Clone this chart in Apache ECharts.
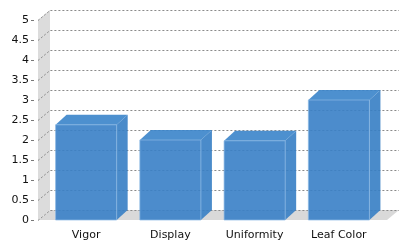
<!DOCTYPE html>
<html>
<head>
<meta charset="utf-8">
<script src="https://cdn.jsdelivr.net/npm/echarts@6/dist/echarts.min.js"></script>
<style>
html,body{margin:0;padding:0;background:#fff;}
#c{width:410px;height:250px;}
</style>
</head>
<body>
<div id="c"></div>
<script>
var categories = ['Vigor', 'Display', 'Uniformity', 'Leaf Color'];
var values = [2.38, 2.0, 1.98, 3.0];
var yTicks = [0, 0.5, 1, 1.5, 2, 2.5, 3, 3.5, 4, 4.5, 5];

var DX = 11, DY = 10;
var chart = echarts.init(document.getElementById('c'), null, {renderer: 'canvas'});

function renderBackground(params, api) {
  var cs = params.coordSys;
  var fl = cs.x - 6, fr = cs.x + cs.width + 6;
  var y0 = api.coord([0, 0])[1];
  var yTop = api.coord([0, yTicks[yTicks.length - 1]])[1];
  var children = [];
  children.push({type: 'polygon', shape: {points: [[fl, yTop], [fl + DX + 1, yTop - DY], [fl + DX + 1, y0 - DY], [fl, y0]]},
    style: {fill: '#dcdcdc'}});
  children.push({type: 'polygon', shape: {points: [[fl, y0], [fr, y0], [fr + DX + 1, y0 - DY], [fl + DX + 1, y0 - DY]]},
    style: {fill: '#d9d9d9'}});
  yTicks.forEach(function (t) {
    var y = Math.round(api.coord([0, t])[1]) + 0.5;
    children.push({type: 'polyline', shape: {points: [[fl, y], [fl + DX + 1, y - DY], [fr + DX + 1, y - DY]]},
      style: {stroke: '#8a8a8a', lineWidth: 1, lineDash: [2, 2], fill: null}});
    children.push({type: 'line', shape: {x1: fl - 7, y1: y, x2: fl - 4, y2: y},
      style: {stroke: '#777', lineWidth: 1}});
  });
  return {type: 'group', children: children};
}

function renderBar(params, api) {
  var idx = api.value(0), v = api.value(1);
  var top = api.coord([idx, v]);
  var bot = api.coord([idx, 0]);
  var w = api.size([1, 0])[0] * 0.725;
  var x0 = top[0] - w / 2, x1 = top[0] + w / 2;
  var yt = top[1], yb = bot[1];
  return {type: 'group', children: [
    {type: 'polygon', shape: {points: [[x1, yt], [x1 + DX, yt - DY], [x1 + DX, yb - DY], [x1, yb]]},
      style: {fill: 'rgba(54,126,196,0.9)'}},
    {type: 'polygon', shape: {points: [[x0, yt], [x0 + DX, yt - DY], [x1 + DX, yt - DY], [x1, yt]]},
      style: {fill: 'rgba(58,132,202,0.9)'}},
    {type: 'rect', shape: {x: x0, y: yt, width: w, height: yb - yt},
      style: {fill: 'rgba(56,128,198,0.9)', stroke: 'rgba(140,185,230,0.7)', lineWidth: 1}}
  ]};
}

chart.setOption({
  animation: false,
  grid: {left: 44, right: 29, top: 20, bottom: 30},
  xAxis: {
    type: 'category', data: categories,
    axisLine: {show: false}, axisTick: {show: false},
    axisLabel: {fontFamily: 'DejaVu Sans', fontSize: 11, color: '#111', margin: 10}
  },
  yAxis: {
    type: 'value', min: 0, max: 5, interval: 0.5,
    axisLine: {show: false}, axisTick: {show: false}, splitLine: {show: false},
    axisLabel: {fontFamily: 'DejaVu Sans', fontSize: 11, color: '#111', margin: 15}
  },
  series: [
    {type: 'custom', renderItem: renderBackground, data: [[0, 0]], z: 1, silent: true},
    {type: 'custom', renderItem: renderBar, z: 2,
      data: values.map(function (v, i) { return [i, v]; }),
      encode: {x: 0, y: 1}}
  ]
});
</script>
</body>
</html>
